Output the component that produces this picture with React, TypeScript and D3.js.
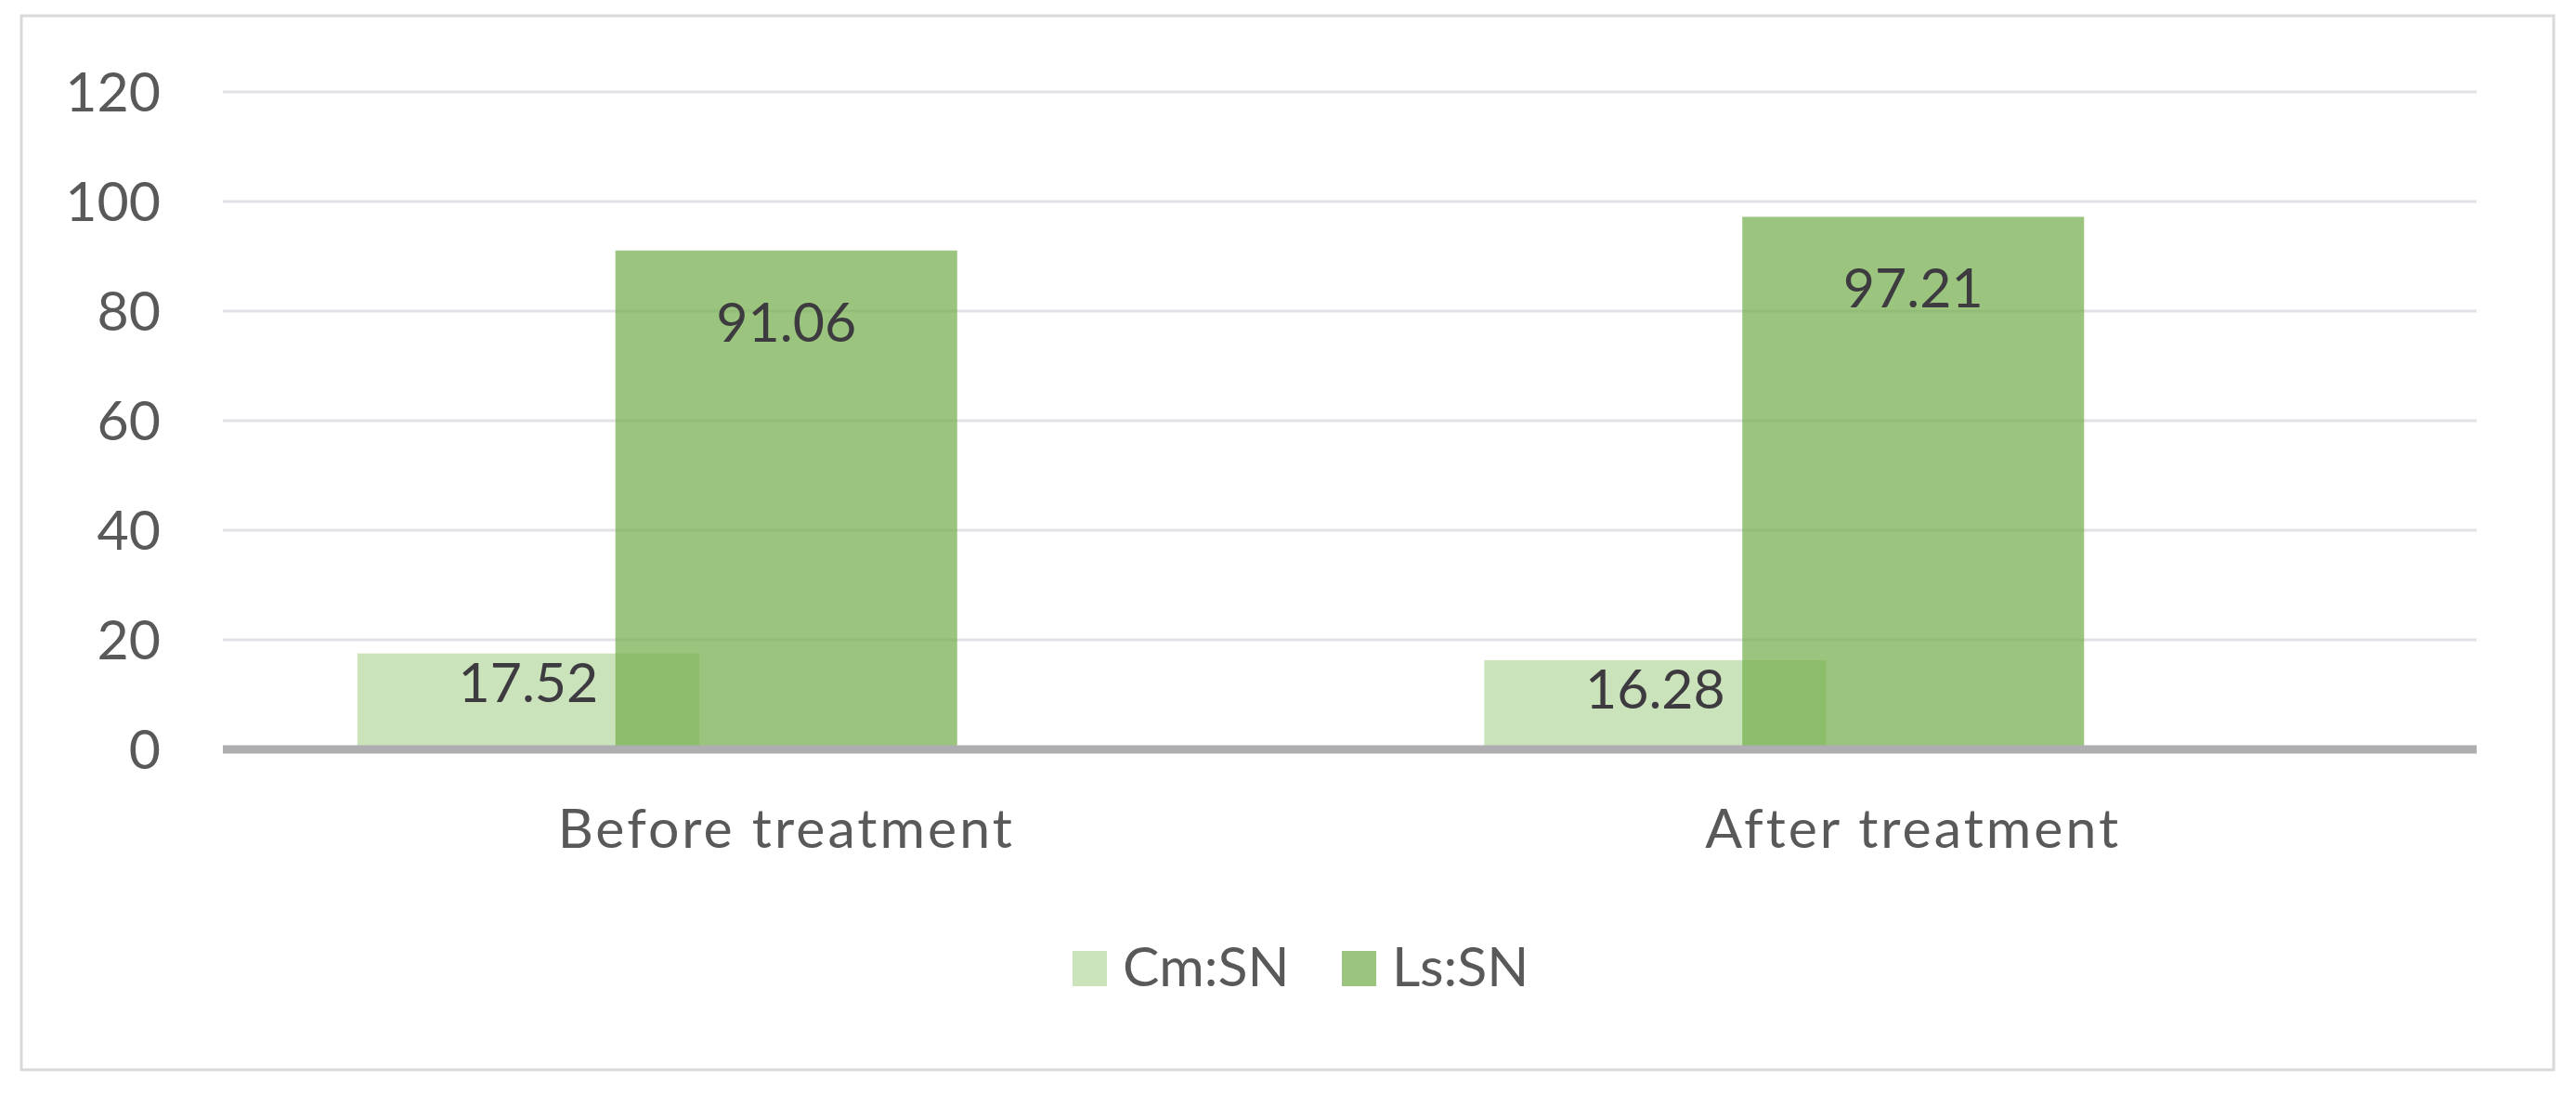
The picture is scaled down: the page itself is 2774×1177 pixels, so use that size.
import React from "react";
import * as d3 from "d3";

const categories = ["Before treatment", "After treatment"];
const seriesNames = ["Cm:SN", "Ls:SN"];
const cmValues = [17.52, 16.28];
const lsValues = [91.06, 97.21];
const yTicks = [0, 20, 40, 60, 80, 100, 120];

const W = 2774;
const H = 1177;
const FONT = "Lato, 'Open Sans', sans-serif";

export default function App() {
  const x = d3.scaleBand<string>().domain(categories).range([240, 2667]).paddingInner(0).paddingOuter(0);
  const y = d3.scaleLinear().domain([0, 120]).range([807, 99]);
  const band = x.bandwidth();
  const barW = band * 0.3033;
  const step = barW * 0.755;
  // slot positions relative to category centre (third slot empty)
  const slot = d3.scalePoint<string>().domain([...seriesNames, "_"]).range([-step, step]);

  const series = [
    { name: seriesNames[0], values: cmValues, fill: "#A9D18E", opacity: 0.6, labelDy: 52 },
    { name: seriesNames[1], values: lsValues, fill: "#70AD47", opacity: 0.7, labelDy: 98 },
  ];

  const legendX = [1155, 1445];

  return (
    <svg width={W} height={H} style={{ position: "absolute", left: 0, top: 0, background: "#fff" }} fontFamily={FONT}>
      <rect x={0} y={0} width={W} height={H} fill="#fff" />
      <rect x={23} y={17} width={2727} height={1135} fill="#fff" stroke="#d9d9d9" strokeWidth={3} />
      {/* gridlines */}
      {yTicks.filter((t) => t > 0).map((t) => (
        <line key={t} x1={240} x2={2667} y1={y(t)} y2={y(t)} stroke="#e2e2e6" strokeWidth={3} />
      ))}
      {/* tick labels */}
      {yTicks.map((t) => (
        <text key={"l" + t} x={173} y={y(t) + 21} textAnchor="end" fontSize={59} fill="#595959">
          {t}
        </text>
      ))}
      {/* bars */}
      {series.map((s) =>
        categories.map((c, i) => {
          const cx = (x(c) as number) + band / 2 + (slot(s.name) as number);
          return (
            <rect
              key={s.name + c}
              x={cx - barW / 2}
              y={y(s.values[i])}
              width={barW}
              height={y(0) - y(s.values[i])}
              fill={s.fill}
              fillOpacity={s.opacity}
            />
          );
        })
      )}
      {/* zero axis */}
      <line x1={240} x2={2667} y1={y(0)} y2={y(0)} stroke="#aeadb0" strokeWidth={9} />
      {/* data labels */}
      {series.map((s) =>
        categories.map((c, i) => {
          const cx = (x(c) as number) + band / 2 + (slot(s.name) as number);
          return (
            <text key={"d" + s.name + c} x={cx} y={y(s.values[i]) + s.labelDy} textAnchor="middle" fontSize={59} fill="#3d3a40">
              {s.values[i].toFixed(2)}
            </text>
          );
        })
      )}
      {/* category labels */}
      {categories.map((c) => (
        <text key={"c" + c} x={(x(c) as number) + band / 2} y={913} textAnchor="middle" fontSize={59} fill="#595959" letterSpacing={3}>
          {c}
        </text>
      ))}
      {/* legend */}
      {series.map((s, i) => (
        <g key={"lg" + s.name}>
          <rect x={legendX[i]} y={1024} width={37} height={38} fill={s.fill} fillOpacity={s.opacity} />
          <text x={legendX[i] + 54} y={1062} fontSize={59} fill="#595959">
            {s.name}
          </text>
        </g>
      ))}
    </svg>
  );
}
